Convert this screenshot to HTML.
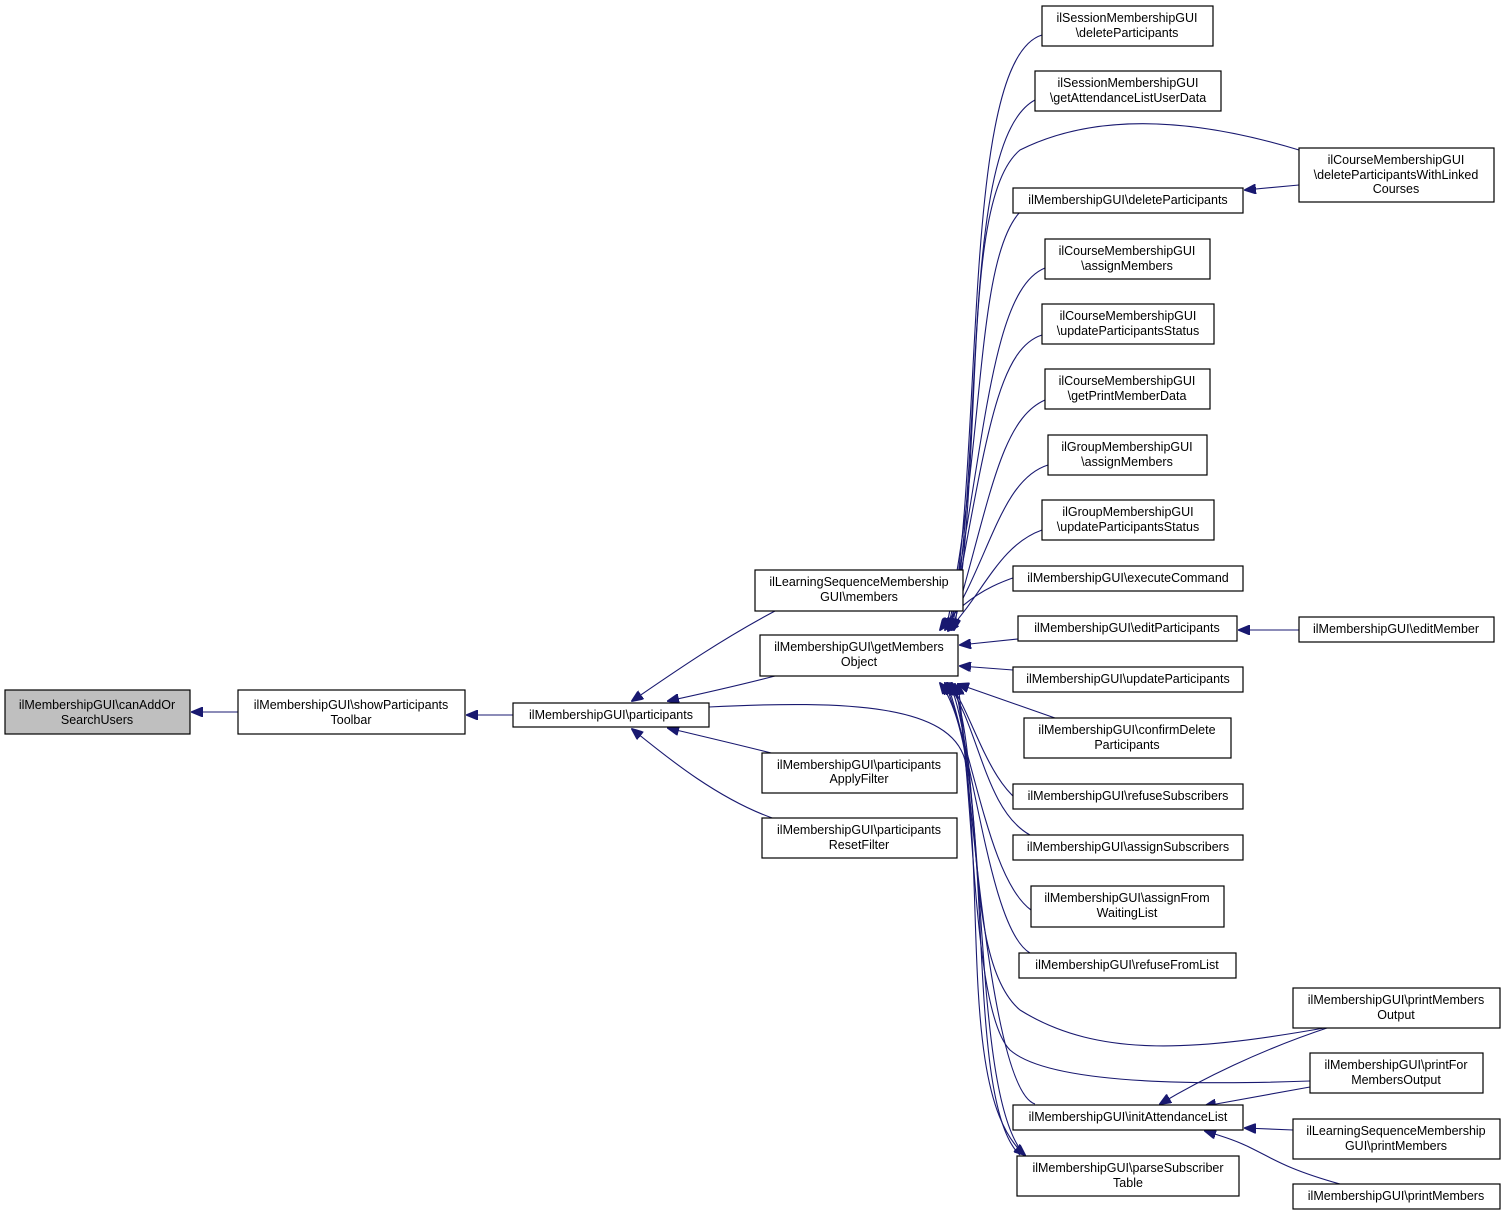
<!DOCTYPE html>
<html><head><meta charset="utf-8"><style>
html,body{margin:0;padding:0;background:#fff;}
svg{display:block}
text{font-family:"Liberation Sans",Arial,sans-serif;font-size:12.5px;fill:#000;text-anchor:middle}
rect{fill:#fff;stroke:#000;stroke-width:1.2}
path{fill:none;stroke:#191970;stroke-width:1.1}
</style></head><body>
<svg width="1505" height="1217" viewBox="0 0 1505 1217">
<defs><marker id="a" markerWidth="12" markerHeight="10" refX="11" refY="5" orient="auto" markerUnits="userSpaceOnUse"><path d="M0,0 L12,5 L0,10 Z" style="fill:#191970;stroke:#191970"/></marker></defs>
<g>
<!-- main chain -->
<path d="M238,712 L192,712" marker-end="url(#a)"/>
<path d="M513,715 L467,715" marker-end="url(#a)"/>
<path d="M775,611 C720,640 670,675 632,701" marker-end="url(#a)"/>
<path d="M775,676 C740,685 705,693 668,701" marker-end="url(#a)"/>
<path d="M775,754 C740,745 705,737 668,728" marker-end="url(#a)"/>
<path d="M775,819 C720,800 670,760 632,729" marker-end="url(#a)"/>
<path d="M709,707 C850,700 950,705 965,760 C985,900 960,1100 1025,1155" marker-end="url(#a)"/>
<!-- upper to GMO -->
<path d="M1042,35 C960,60 985,450 950,629" marker-end="url(#a)"/>
<path d="M1035,100 C960,140 985,450 952,629" marker-end="url(#a)"/>
<path d="M1299,150 C1200,120 1100,110 1020,150 C960,200 985,450 954,630" marker-end="url(#a)"/>
<path d="M1299,185 L1245,190" marker-end="url(#a)"/>
<path d="M1020,212 C975,260 985,450 946,629" marker-end="url(#a)"/>
<path d="M1045,268 C990,290 985,450 948,630" marker-end="url(#a)"/>
<path d="M1042,335 C995,350 985,450 950,630" marker-end="url(#a)"/>
<path d="M1045,400 C1000,420 990,500 952,630" marker-end="url(#a)"/>
<path d="M1048,465 C1000,480 990,560 945,630" marker-end="url(#a)"/>
<path d="M1042,530 C1000,545 985,590 948,631" marker-end="url(#a)"/>
<path d="M1060,566 C1010,575 970,590 940,630" marker-end="url(#a)"/>
<path d="M1018,639 L960,645" marker-end="url(#a)"/>
<path d="M1299,630 L1239,630" marker-end="url(#a)"/>
<path d="M1013,670 L960,666" marker-end="url(#a)"/>
<path d="M1055,718 L958,684" marker-end="url(#a)"/>
<!-- lower to GMO -->
<path d="M1030,808 C990,790 975,720 950,683" marker-end="url(#a)"/>
<path d="M1030,835 C985,810 980,730 948,683" marker-end="url(#a)"/>
<path d="M1031,910 C990,880 975,760 945,683" marker-end="url(#a)"/>
<path d="M1030,953 C990,930 975,760 947,683" marker-end="url(#a)"/>
<path d="M1330,1027 C1200,1050 1100,1060 1020,1010 C960,960 985,760 952,683" marker-end="url(#a)"/>
<path d="M1310,1081 C1200,1085 1050,1085 1010,1050 C970,1010 975,770 955,684" marker-end="url(#a)"/>
<path d="M1035,1104 C990,1090 970,780 958,684" marker-end="url(#a)"/>
<path d="M1025,1155 C970,1100 990,780 950,684" marker-end="url(#a)"/>
<path d="M1020,1155 C960,1100 1000,760 940,683" marker-end="url(#a)"/>
<!-- to initAttendanceList -->
<path d="M1330,1027 C1260,1050 1200,1080 1160,1104" marker-end="url(#a)"/>
<path d="M1310,1087 L1205,1106" marker-end="url(#a)"/>
<path d="M1293,1130 L1245,1128" marker-end="url(#a)"/>
<path d="M1340,1184 C1290,1170 1275,1160 1255,1150 C1240,1142 1225,1137 1205,1131" marker-end="url(#a)"/>
</g>
<g>
<rect x="5" y="690" width="185" height="44" style="fill:#bfbfbf"/><text x="97" y="709">ilMembershipGUI\canAddOr</text><text x="97" y="724">SearchUsers</text>
<rect x="238" y="690" width="227" height="44"/><text x="351" y="709">ilMembershipGUI\showParticipants</text><text x="351" y="724">Toolbar</text>
<rect x="513" y="703" width="196" height="24"/><text x="611" y="719">ilMembershipGUI\participants</text>
<rect x="755" y="570" width="208" height="41"/><text x="859" y="586">ilLearningSequenceMembership</text><text x="859" y="601">GUI\members</text>
<rect x="760" y="635" width="198" height="41"/><text x="859" y="651">ilMembershipGUI\getMembers</text><text x="859" y="666">Object</text>
<rect x="762" y="753" width="195" height="40"/><text x="859" y="769">ilMembershipGUI\participants</text><text x="859" y="783">ApplyFilter</text>
<rect x="762" y="818" width="195" height="40"/><text x="859" y="834">ilMembershipGUI\participants</text><text x="859" y="849">ResetFilter</text>

<rect x="1042" y="6" width="171" height="40"/><text x="1127" y="22">ilSessionMembershipGUI</text><text x="1127" y="37">\deleteParticipants</text>
<rect x="1035" y="71" width="186" height="40"/><text x="1128" y="87">ilSessionMembershipGUI</text><text x="1128" y="102">\getAttendanceListUserData</text>
<rect x="1013" y="188" width="230" height="25"/><text x="1128" y="204">ilMembershipGUI\deleteParticipants</text>
<rect x="1045" y="239" width="165" height="40"/><text x="1127" y="255">ilCourseMembershipGUI</text><text x="1127" y="270">\assignMembers</text>
<rect x="1042" y="304" width="172" height="40"/><text x="1128" y="320">ilCourseMembershipGUI</text><text x="1128" y="335">\updateParticipantsStatus</text>
<rect x="1045" y="369" width="165" height="40"/><text x="1127" y="385">ilCourseMembershipGUI</text><text x="1127" y="400">\getPrintMemberData</text>
<rect x="1048" y="435" width="159" height="40"/><text x="1127" y="451">ilGroupMembershipGUI</text><text x="1127" y="466">\assignMembers</text>
<rect x="1042" y="500" width="172" height="40"/><text x="1128" y="516">ilGroupMembershipGUI</text><text x="1128" y="531">\updateParticipantsStatus</text>
<rect x="1013" y="566" width="230" height="25"/><text x="1128" y="582">ilMembershipGUI\executeCommand</text>
<rect x="1018" y="616" width="219" height="25"/><text x="1127" y="632">ilMembershipGUI\editParticipants</text>
<rect x="1013" y="667" width="230" height="25"/><text x="1128" y="683">ilMembershipGUI\updateParticipants</text>
<rect x="1024" y="718" width="207" height="40"/><text x="1127" y="734">ilMembershipGUI\confirmDelete</text><text x="1127" y="749">Participants</text>
<rect x="1013" y="784" width="230" height="25"/><text x="1128" y="800">ilMembershipGUI\refuseSubscribers</text>
<rect x="1013" y="835" width="230" height="25"/><text x="1128" y="851">ilMembershipGUI\assignSubscribers</text>
<rect x="1031" y="886" width="193" height="41"/><text x="1127" y="902">ilMembershipGUI\assignFrom</text><text x="1127" y="917">WaitingList</text>
<rect x="1019" y="953" width="217" height="25"/><text x="1127" y="969">ilMembershipGUI\refuseFromList</text>
<rect x="1013" y="1105" width="230" height="25"/><text x="1128" y="1121">ilMembershipGUI\initAttendanceList</text>
<rect x="1017" y="1156" width="222" height="40"/><text x="1128" y="1172">ilMembershipGUI\parseSubscriber</text><text x="1128" y="1187">Table</text>

<rect x="1299" y="148" width="195" height="54"/><text x="1396" y="164">ilCourseMembershipGUI</text><text x="1396" y="179">\deleteParticipantsWithLinked</text><text x="1396" y="193">Courses</text>
<rect x="1299" y="617" width="195" height="25"/><text x="1396" y="633">ilMembershipGUI\editMember</text>
<rect x="1293" y="988" width="207" height="40"/><text x="1396" y="1004">ilMembershipGUI\printMembers</text><text x="1396" y="1019">Output</text>
<rect x="1310" y="1053" width="173" height="40"/><text x="1396" y="1069">ilMembershipGUI\printFor</text><text x="1396" y="1084">MembersOutput</text>
<rect x="1293" y="1119" width="207" height="40"/><text x="1396" y="1135">ilLearningSequenceMembership</text><text x="1396" y="1150">GUI\printMembers</text>
<rect x="1293" y="1184" width="207" height="25"/><text x="1396" y="1200">ilMembershipGUI\printMembers</text>
</g>
</svg>
</body></html>
